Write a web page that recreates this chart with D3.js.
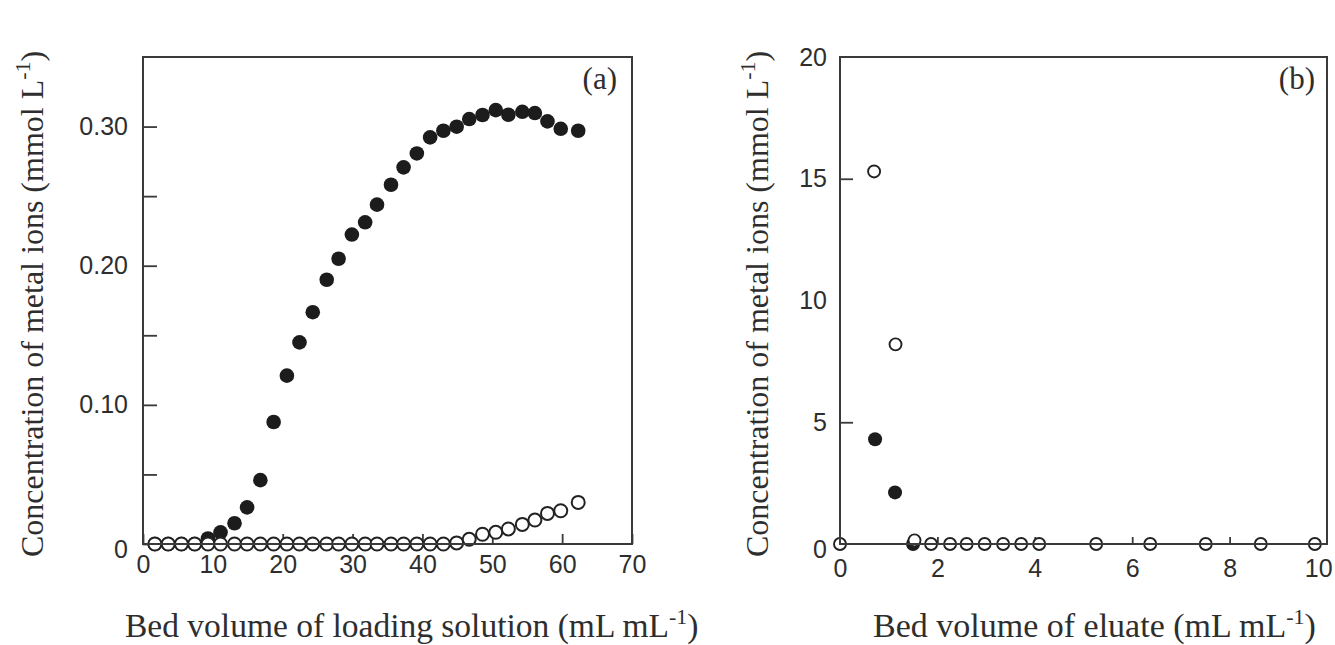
<!DOCTYPE html>
<html>
<head>
<meta charset="utf-8">
<script src="https://cdn.jsdelivr.net/npm/d3@7"></script>
<style>
  html, body { margin: 0; padding: 0; background: #fff; }
  svg { display: block; }
</style>
</head>
<body>
<svg id="chart" width="1335" height="645"></svg>
<script>
// ---- Panel (a): loading step ----
const bvLoading = [1.7, 3.6, 5.5, 7.4, 9.3, 11.1, 13.1, 14.9, 16.8, 18.7, 20.6, 22.4, 24.3, 26.3, 28.0, 29.9,
  31.8, 33.5, 35.5, 37.3, 39.2, 41.1, 43.0, 44.9, 46.7, 48.6, 50.5, 52.3, 54.3, 56.1, 57.9, 59.8, 62.3];
const loadingFilled = [0, 0, 0, 0, 0.004, 0.0084, 0.0149, 0.0263, 0.0459, 0.0877, 0.121, 0.1449, 0.1666,
  0.1899, 0.205, 0.2224, 0.2312, 0.2439, 0.2582, 0.2707, 0.2807, 0.2922, 0.297, 0.2999, 0.3054, 0.3083,
  0.3118, 0.3085, 0.3106, 0.3097, 0.3037, 0.2984, 0.297];
const loadingOpen = [0, 0, 0, 0, 0, 0, 0, 0, 0, 0, 0, 0, 0, 0, 0, 0, 0, 0, 0, 0, 0, 0, 0, 0.0008,
  0.0034, 0.007, 0.0084, 0.0108, 0.0141, 0.0172, 0.022, 0.0239, 0.0299];
const xTicksA = [0, 10, 20, 30, 40, 50, 60, 70];
const yTicksA = [0, 0.05, 0.10, 0.15, 0.20, 0.25, 0.30];
const yLabelsA = [0, 0.10, 0.20, 0.30];

// ---- Panel (b): elution step ----
const bvEluateFilled = [0.72, 1.13, 1.50];
const eluateFilled = [4.3, 2.12, 0];
const bvEluateOpen = [0, 0.70, 1.14, 1.53, 1.87, 2.26, 2.60, 2.97, 3.35, 3.72, 4.09, 5.26, 6.37, 7.51, 8.64, 9.75];
const eluateOpen = [0, 15.3, 8.2, 0.15, 0, 0, 0, 0, 0, 0, 0, 0, 0, 0, 0, 0];
const xTicksB = [0, 2, 4, 6, 8, 10];
const xTickMarksB = [2, 4, 6, 8];
const yTicksB = [0, 5, 10, 15, 20];
const yTickMarksB = [5, 15];

const svg = d3.select("#chart");
const lineColor = "#3a3a3a";
const textColor = "#2e2e2e";
const sansFont = "'Liberation Sans', Arial, sans-serif";
const serifFont = "'Liberation Serif', 'Times New Roman', serif";

const xA = d3.scaleLinear().domain([0, 70]).range([143, 632]);
const yA = d3.scaleLinear().domain([0, 0.35]).range([544, 57]);
const xB = d3.scaleLinear().domain([0, 10]).range([840, 1327]);
const yB = d3.scaleLinear().domain([0, 20]).range([544, 57]);

function styleAxis(g) {
  g.select(".domain").remove();
  g.selectAll(".tick line").attr("stroke", lineColor).attr("stroke-width", 1.8);
  g.selectAll(".tick text")
    .attr("fill", textColor)
    .style("font-family", sansFont)
    .style("font-size", "25px");
}

function frame(x, y) {
  svg.append("rect")
    .attr("x", x.range()[0]).attr("y", y.range()[1])
    .attr("width", x.range()[1] - x.range()[0])
    .attr("height", y.range()[0] - y.range()[1])
    .attr("fill", "none").attr("stroke", lineColor).attr("stroke-width", 2);
}

// Axis title with a superscript "-1" inside the unit
function axisTitle(g, before, sup, after, size) {
  const t = g.append("text")
    .attr("fill", textColor)
    .style("font-family", serifFont)
    .style("font-size", size + "px");
  t.append("tspan").text(before);
  t.append("tspan").attr("dy", -13).style("font-size", "22px").text(sup);
  t.append("tspan").attr("dy", 13).text(after);
  return t;
}

// ---------- Panel (a) ----------
{
  const g = svg.append("g");
  const yFmt = d => d === 0 ? "0" : (yLabelsA.some(v => Math.abs(v - d) < 1e-9) ? d3.format(".2f")(d) : "");

  g.append("g").attr("transform", `translate(0,${yA(0)})`)
    .call(d3.axisBottom(xA).tickValues(xTicksA).tickSize(-10).tickPadding(11).tickFormat(d3.format("d")))
    .call(styleAxis);
  g.append("g").attr("transform", `translate(${xA(0)},0)`)
    .call(d3.axisLeft(yA).tickValues(yTicksA).tickSize(-14).tickPadding(15).tickFormat(yFmt))
    .call(styleAxis)
    .call(a => a.selectAll(".tick text").filter(d => d === 0).attr("dy", "0.55em"));

  frame(xA, yA);

  g.append("g").selectAll("circle")
    .data(bvLoading.map((x, i) => [x, loadingFilled[i]]))
    .join("circle")
    .attr("cx", d => xA(d[0])).attr("cy", d => yA(d[1])).attr("r", 7.3)
    .attr("fill", "#1c1c1c");

  g.append("g").selectAll("circle")
    .data(bvLoading.map((x, i) => [x, loadingOpen[i]]))
    .join("circle")
    .attr("cx", d => xA(d[0])).attr("cy", d => yA(d[1])).attr("r", 6.5)
    .attr("fill", "#fff").attr("stroke", "#222").attr("stroke-width", 2);

  g.append("text").attr("x", 617).attr("y", 89).attr("text-anchor", "end")
    .attr("fill", textColor).style("font-family", serifFont).style("font-size", "31px").text("(a)");

  axisTitle(g, "Bed volume of loading solution (mL mL", "-1", ")", 33.5)
    .attr("x", 125).attr("y", 637);
  axisTitle(g, "Concentration of metal ions (mmol L", "-1", ")", 32)
    .attr("transform", "translate(43,557) rotate(-90)");
}

// ---------- Panel (b) ----------
{
  const g = svg.append("g");

  g.append("g").attr("transform", `translate(0,${yB(0)})`)
    .call(d3.axisBottom(xB).tickValues(xTicksB).tickSize(-7).tickPadding(15).tickFormat(d3.format("d")))
    .call(styleAxis)
    .call(a => a.selectAll(".tick line").filter(d => !xTickMarksB.includes(d)).remove())
    .call(a => a.selectAll(".tick text").filter(d => d === 10).attr("dx", "-0.35em"));
  g.append("g").attr("transform", `translate(${xB(0)},0)`)
    .call(d3.axisLeft(yB).tickValues(yTicksB).tickSize(-13).tickPadding(13).tickFormat(d3.format("d")))
    .call(styleAxis)
    .call(a => a.selectAll(".tick line").filter(d => !yTickMarksB.includes(d)).remove())
    .call(a => a.selectAll(".tick text").filter(d => d === 0).attr("dy", "0.55em"));

  frame(xB, yB);

  g.append("g").selectAll("circle")
    .data(bvEluateFilled.map((x, i) => [x, eluateFilled[i]]))
    .join("circle")
    .attr("cx", d => xB(d[0])).attr("cy", d => yB(d[1])).attr("r", 7)
    .attr("fill", "#1c1c1c");

  g.append("g").selectAll("circle")
    .data(bvEluateOpen.map((x, i) => [x, eluateOpen[i]]))
    .join("circle")
    .attr("cx", d => xB(d[0])).attr("cy", d => yB(d[1])).attr("r", 6)
    .attr("fill", "#fff").attr("stroke", "#222").attr("stroke-width", 1.9);

  g.append("text").attr("x", 1315).attr("y", 89).attr("text-anchor", "end")
    .attr("fill", textColor).style("font-family", serifFont).style("font-size", "31px").text("(b)");

  axisTitle(g, "Bed volume of eluate (mL mL", "-1", ")", 34)
    .attr("x", 873).attr("y", 637);
  axisTitle(g, "Concentration of metal ions (mmol L", "-1", ")", 32)
    .attr("transform", "translate(768,557) rotate(-90)");
}
</script>
</body>
</html>
